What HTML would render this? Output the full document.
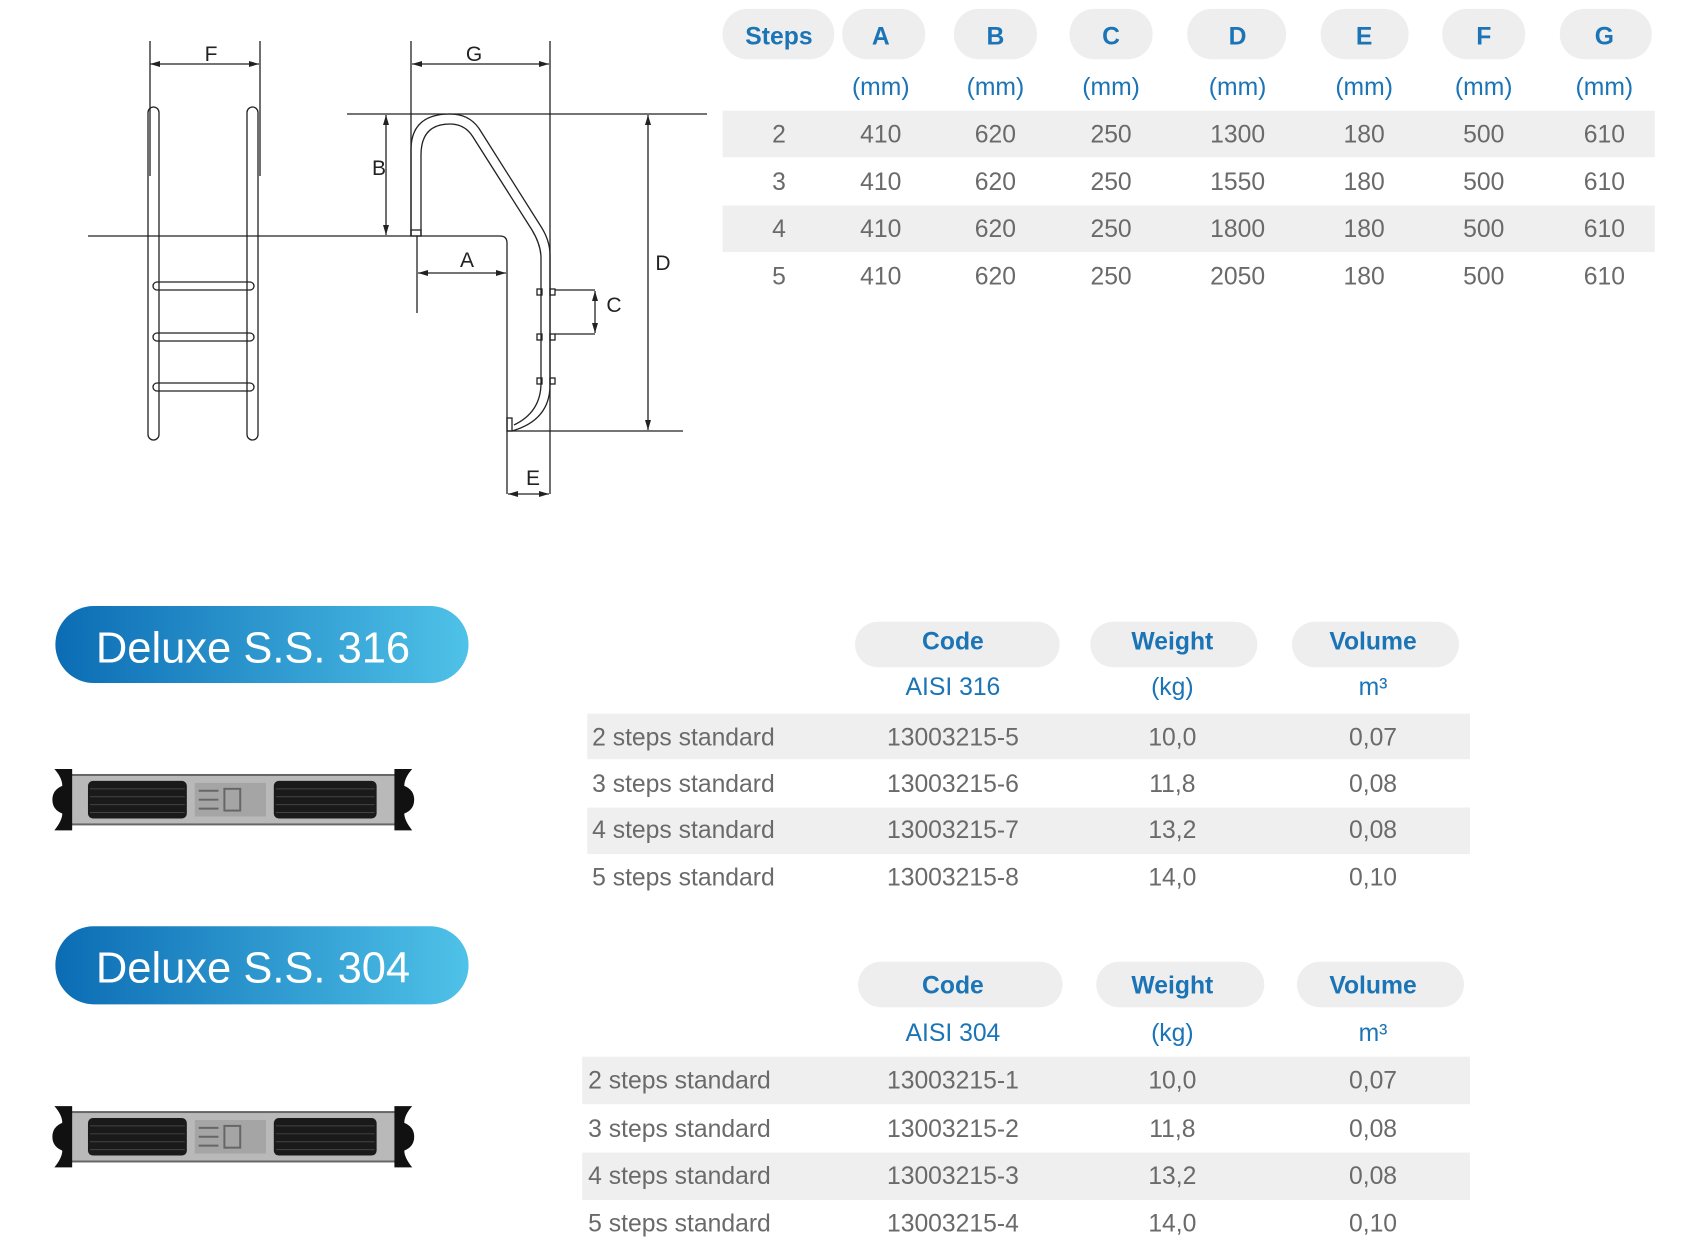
<!DOCTYPE html>
<html><head><meta charset="utf-8"><style>
html,body{margin:0;padding:0;background:#fff;width:1686px;height:1257px;overflow:hidden;}
svg{display:block}
text{font-family:"Liberation Sans",sans-serif;}
.h{fill:#1b74b6;font-weight:bold;font-size:25px;text-anchor:middle}
.u{fill:#1b74b6;font-size:25px;text-anchor:middle}
.d{fill:#6a6a6a;font-size:25px;text-anchor:middle}
.l{fill:#6a6a6a;font-size:25px;}
.dl{fill:#222;font-size:21px;text-anchor:middle}
</style></head><body>
<svg width="1686" height="1257" viewBox="0 0 1686 1257" xmlns="http://www.w3.org/2000/svg">
<defs>
<linearGradient id="bg" x1="0" x2="1" y1="0" y2="0"><stop offset="0" stop-color="#0b6cb4"/><stop offset="1" stop-color="#4fc2e8"/></linearGradient>
<marker id="ar" markerWidth="10" markerHeight="8" refX="10" refY="4" orient="auto-start-reverse" markerUnits="userSpaceOnUse"><path d="M0,1 L10,4 L0,7 z" fill="#222"/></marker>
<g id="step">
<rect x="14" y="6" width="334" height="50" fill="#b9b9b9" stroke="#666" stroke-width="2"/>
<rect x="34" y="12" width="100" height="38" rx="5" fill="#1a1a1a"/>
<rect x="222" y="12" width="104" height="38" rx="5" fill="#1a1a1a"/>
<g stroke="#444" stroke-width="1"><line x1="36" y1="20" x2="132" y2="20"/><line x1="36" y1="28" x2="132" y2="28"/><line x1="36" y1="36" x2="132" y2="36"/><line x1="36" y1="44" x2="132" y2="44"/><line x1="224" y1="20" x2="324" y2="20"/><line x1="224" y1="28" x2="324" y2="28"/><line x1="224" y1="36" x2="324" y2="36"/><line x1="224" y1="44" x2="324" y2="44"/></g>
<rect x="142" y="14" width="72" height="34" fill="#a5a5a5"/>
<g stroke="#666" stroke-width="2"><line x1="146" y1="22" x2="166" y2="22"/><line x1="146" y1="31" x2="166" y2="31"/><line x1="146" y1="40" x2="166" y2="40"/><rect x="172" y="20" width="16" height="22" fill="none"/></g>
<path d="M0,0 h18 v62 h-18 q8,-10 8,-17 q-10,-4 -10,-14 q0,-10 10,-14 q0,-8 -8,-17z" fill="#111"/>
<path d="M362,0 h-18 v62 h18 q-8,-10 -8,-17 q10,-4 10,-14 q0,-10 -10,-14 q0,-8 8,-17z" fill="#111"/>
</g>
</defs>

<!-- Diagram -->
<g fill="none" stroke="#222" stroke-width="1.3">
<line x1="150" y1="41" x2="150" y2="176"/><line x1="260" y1="41" x2="260" y2="176"/>
<line x1="150" y1="64" x2="259" y2="64" marker-start="url(#ar)" marker-end="url(#ar)"/>
<rect x="148" y="107" width="11" height="333" rx="5.5"/>
<rect x="247" y="107" width="11" height="333" rx="5.5"/>
<rect x="153" y="282" width="101" height="8" rx="4"/>
<rect x="153" y="333" width="101" height="8" rx="4"/>
<rect x="153" y="383" width="101" height="8" rx="4"/>
<path d="M88,236 H500 Q507,236 507,243 V494"/>
<line x1="347" y1="114" x2="707" y2="114"/>
<line x1="411" y1="41" x2="411" y2="236"/>
<line x1="550" y1="41" x2="550" y2="494"/>
<line x1="412" y1="64" x2="549" y2="64" marker-start="url(#ar)" marker-end="url(#ar)"/>
<line x1="386" y1="115" x2="386" y2="235" marker-start="url(#ar)" marker-end="url(#ar)"/>
<path d="M411,236 V150 Q411,114 450,114 Q470,114 480,130 L540,225 Q550,240 550,255 V385 Q550,420 512,431"/>
<path d="M421,236 V155 Q421,124 450,124 Q465,124 473,137 L532,230 Q541,245 541,258 V383 Q541,412 514,425"/>
<rect x="507" y="418" width="5" height="13"/>
<rect x="411" y="230" width="10" height="6"/>
<line x1="417" y1="236" x2="417" y2="313"/>
<line x1="418" y1="273" x2="506" y2="273" marker-start="url(#ar)" marker-end="url(#ar)"/>
<rect x="537" y="289" width="5" height="6"/><rect x="550" y="289" width="5" height="6"/>
<rect x="537" y="334" width="5" height="6"/><rect x="550" y="334" width="5" height="6"/>
<rect x="537" y="378" width="5" height="6"/><rect x="550" y="378" width="5" height="6"/>
<line x1="555" y1="290" x2="595" y2="290"/><line x1="555" y1="334" x2="595" y2="334"/>
<line x1="595" y1="291" x2="595" y2="333" marker-start="url(#ar)" marker-end="url(#ar)"/>
<line x1="648" y1="115" x2="648" y2="430" marker-start="url(#ar)" marker-end="url(#ar)"/>
<line x1="507" y1="431" x2="683" y2="431"/>
<line x1="508" y1="494" x2="549" y2="494" marker-start="url(#ar)" marker-end="url(#ar)"/>
</g>
<text class="dl" x="211" y="61">F</text>
<text class="dl" x="474" y="61">G</text>
<text class="dl" x="379" y="175">B</text>
<text class="dl" x="467" y="267">A</text>
<text class="dl" x="614" y="312">C</text>
<text class="dl" x="663" y="270">D</text>
<text class="dl" x="533" y="485">E</text>

<g transform="scale(0.9885)">
<!-- Top table -->
<rect x="731" y="112" width="943" height="47" fill="#efefef"/>
<rect x="731" y="208" width="943" height="47" fill="#efefef"/>
<g fill="#eeeeee">
<rect x="731" y="9" width="113" height="51" rx="25"/>
<rect x="852" y="9" width="84" height="51" rx="25"/>
<rect x="965" y="9" width="84" height="51" rx="25"/>
<rect x="1082" y="9" width="84" height="51" rx="25"/>
<rect x="1201" y="9" width="100" height="51" rx="25"/>
<rect x="1336" y="9" width="89" height="51" rx="25"/>
<rect x="1459" y="9" width="84" height="51" rx="25"/>
<rect x="1578" y="9" width="93" height="51" rx="25"/>
</g>
<text class="h" x="788" y="45">Steps</text><text class="h" x="891" y="45">A</text><text class="h" x="1007" y="45">B</text><text class="h" x="1124" y="45">C</text><text class="h" x="1252" y="45">D</text><text class="h" x="1380" y="45">E</text><text class="h" x="1501" y="45">F</text><text class="h" x="1623" y="45">G</text>
<text class="u" x="891" y="96">(mm)</text><text class="u" x="1007" y="96">(mm)</text><text class="u" x="1124" y="96">(mm)</text><text class="u" x="1252" y="96">(mm)</text><text class="u" x="1380" y="96">(mm)</text><text class="u" x="1501" y="96">(mm)</text><text class="u" x="1623" y="96">(mm)</text>
<text class="d" x="788" y="144">2</text><text class="d" x="891" y="144">410</text><text class="d" x="1007" y="144">620</text><text class="d" x="1124" y="144">250</text><text class="d" x="1252" y="144">1300</text><text class="d" x="1380" y="144">180</text><text class="d" x="1501" y="144">500</text><text class="d" x="1623" y="144">610</text>
<text class="d" x="788" y="192">3</text><text class="d" x="891" y="192">410</text><text class="d" x="1007" y="192">620</text><text class="d" x="1124" y="192">250</text><text class="d" x="1252" y="192">1550</text><text class="d" x="1380" y="192">180</text><text class="d" x="1501" y="192">500</text><text class="d" x="1623" y="192">610</text>
<text class="d" x="788" y="240">4</text><text class="d" x="891" y="240">410</text><text class="d" x="1007" y="240">620</text><text class="d" x="1124" y="240">250</text><text class="d" x="1252" y="240">1800</text><text class="d" x="1380" y="240">180</text><text class="d" x="1501" y="240">500</text><text class="d" x="1623" y="240">610</text>
<text class="d" x="788" y="288">5</text><text class="d" x="891" y="288">410</text><text class="d" x="1007" y="288">620</text><text class="d" x="1124" y="288">250</text><text class="d" x="1252" y="288">2050</text><text class="d" x="1380" y="288">180</text><text class="d" x="1501" y="288">500</text><text class="d" x="1623" y="288">610</text>

<!-- Banners -->
<rect x="56" y="613" width="418" height="78" rx="39" fill="url(#bg)"/>
<text x="97" y="670" fill="#fff" font-size="44">Deluxe S.S. 316</text>
<rect x="56" y="937" width="418" height="79" rx="39" fill="url(#bg)"/>
<text x="97" y="994" fill="#fff" font-size="44">Deluxe S.S. 304</text>
<use href="#step" x="55" y="778"/>
<use href="#step" x="55" y="1119"/>

<!-- Table 2 -->
<rect x="594" y="722" width="893" height="46" fill="#efefef"/>
<rect x="594" y="817" width="893" height="47" fill="#efefef"/>
<g fill="#eeeeee">
<rect x="865" y="629" width="207" height="46" rx="23"/>
<rect x="1103" y="629" width="169" height="46" rx="23"/>
<rect x="1307" y="629" width="169" height="46" rx="23"/>
</g>
<text class="h" x="964" y="657">Code</text><text class="h" x="1186" y="657">Weight</text><text class="h" x="1389" y="657">Volume</text>
<text class="u" x="964" y="703">AISI 316</text><text class="u" x="1186" y="703">(kg)</text><text class="u" x="1389" y="703">m³</text>
<text class="l" x="599" y="754">2 steps standard</text><text class="d" x="964" y="754">13003215-5</text><text class="d" x="1186" y="754">10,0</text><text class="d" x="1389" y="754">0,07</text>
<text class="l" x="599" y="801">3 steps standard</text><text class="d" x="964" y="801">13003215-6</text><text class="d" x="1186" y="801">11,8</text><text class="d" x="1389" y="801">0,08</text>
<text class="l" x="599" y="848">4 steps standard</text><text class="d" x="964" y="848">13003215-7</text><text class="d" x="1186" y="848">13,2</text><text class="d" x="1389" y="848">0,08</text>
<text class="l" x="599" y="896">5 steps standard</text><text class="d" x="964" y="896">13003215-8</text><text class="d" x="1186" y="896">14,0</text><text class="d" x="1389" y="896">0,10</text>

<!-- Table 3 -->
<rect x="589" y="1069" width="898" height="48" fill="#efefef"/>
<rect x="589" y="1166" width="898" height="48" fill="#efefef"/>
<g fill="#eeeeee">
<rect x="868" y="973" width="207" height="46" rx="23"/>
<rect x="1109" y="973" width="170" height="46" rx="23"/>
<rect x="1312" y="973" width="169" height="46" rx="23"/>
</g>
<text class="h" x="964" y="1005">Code</text><text class="h" x="1186" y="1005">Weight</text><text class="h" x="1389" y="1005">Volume</text>
<text class="u" x="964" y="1053">AISI 304</text><text class="u" x="1186" y="1053">(kg)</text><text class="u" x="1389" y="1053">m³</text>
<text class="l" x="595" y="1101">2 steps standard</text><text class="d" x="964" y="1101">13003215-1</text><text class="d" x="1186" y="1101">10,0</text><text class="d" x="1389" y="1101">0,07</text>
<text class="l" x="595" y="1150">3 steps standard</text><text class="d" x="964" y="1150">13003215-2</text><text class="d" x="1186" y="1150">11,8</text><text class="d" x="1389" y="1150">0,08</text>
<text class="l" x="595" y="1198">4 steps standard</text><text class="d" x="964" y="1198">13003215-3</text><text class="d" x="1186" y="1198">13,2</text><text class="d" x="1389" y="1198">0,08</text>
<text class="l" x="595" y="1246">5 steps standard</text><text class="d" x="964" y="1246">13003215-4</text><text class="d" x="1186" y="1246">14,0</text><text class="d" x="1389" y="1246">0,10</text>
</g>
</svg>
</body></html>
